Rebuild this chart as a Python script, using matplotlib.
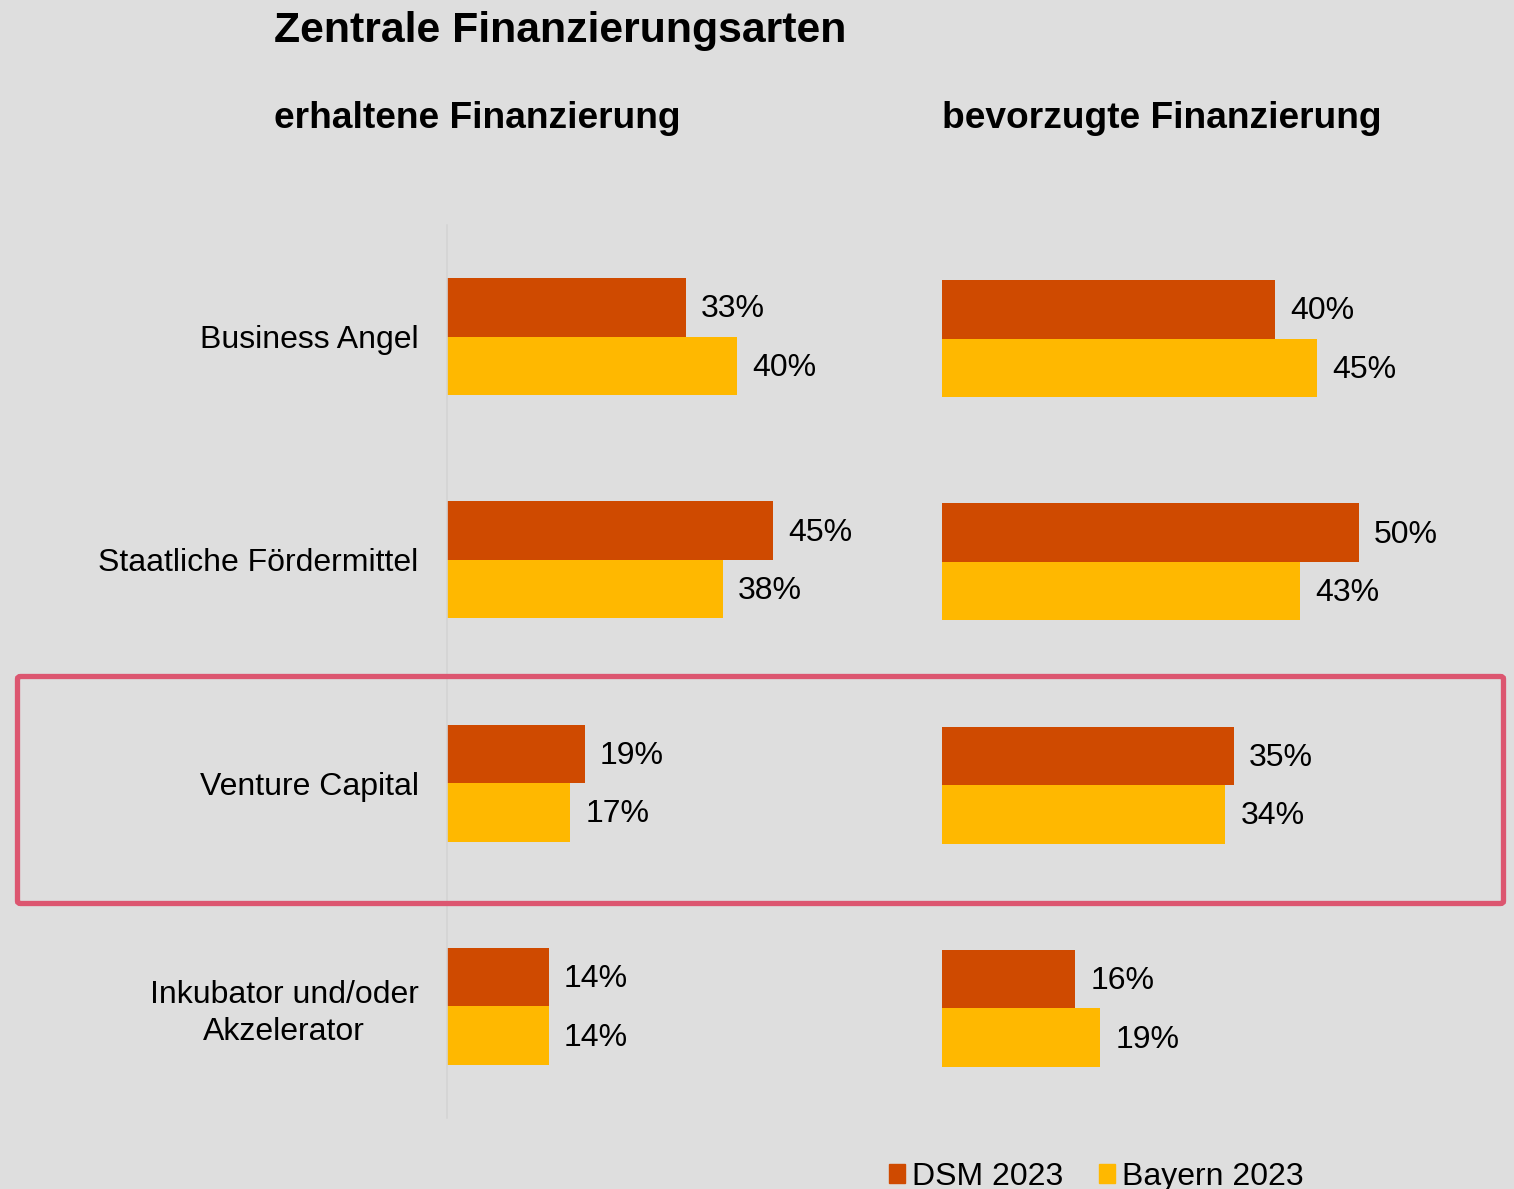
import matplotlib.pyplot as plt
from matplotlib.patches import Patch, FancyBboxPatch

plt.rcParams['font.family'] = ['Liberation Sans', 'DejaVu Sans']

categories = ['Business Angel', 'Staatliche Fördermittel', 'Venture Capital',
              'Inkubator und/oder\nAkzelerator']
erhalten_dsm = [33, 45, 19, 14]
erhalten_bayern = [40, 38, 17, 14]
bevorzugt_dsm = [40, 50, 35, 16]
bevorzugt_bayern = [45, 43, 34, 19]

series_labels = ['DSM 2023', 'Bayern 2023']
col_dsm = '#CF4A00'
col_bay = '#FFB800'
bg = '#DEDEDE'

W, H = 1514, 1189
fig = plt.figure(figsize=(W / 100, H / 100), dpi=100, facecolor=bg)

ax1 = fig.add_axes([447 / W, 1 - 1118 / H, 435 / W, 893 / H])
ax2 = fig.add_axes([942 / W, 1 - 1120 / H, 550 / W, 893 / H])

bh = 0.262
ypos = list(range(len(categories)))


def draw(ax, dsm, bay, xmax, show_labels):
    ax.set_facecolor(bg)
    ax.barh([y - bh / 2 for y in ypos], dsm, height=bh, color=col_dsm)
    ax.barh([y + bh / 2 for y in ypos], bay, height=bh, color=col_bay)
    for y, v in zip(ypos, dsm):
        ax.annotate(f'{v}%', (v, y - bh / 2), xytext=(15, -2), textcoords='offset pixels',
                    va='center', ha='left', fontsize=23)
    for y, v in zip(ypos, bay):
        ax.annotate(f'{v}%', (v, y + bh / 2), xytext=(15, -2), textcoords='offset pixels',
                    va='center', ha='left', fontsize=23)
    ax.set_xlim(0, xmax)
    ax.set_ylim(len(categories) - 0.5, -0.5)
    ax.set_xticks([])
    for s in ['top', 'right', 'bottom']:
        ax.spines[s].set_visible(False)
    if show_labels:
        ax.spines['left'].set_color('#D4D4D4')
        ax.spines['left'].set_linewidth(1.2)
        ax.set_yticks(ypos)
        ax.set_yticklabels(categories, fontsize=23, multialignment='center',
                           linespacing=1.3)
        ax.tick_params(axis='y', length=0, pad=20.5)
    else:
        ax.spines['left'].set_visible(False)
        ax.set_yticks([])


draw(ax1, erhalten_dsm, erhalten_bayern, 60, True)
draw(ax2, bevorzugt_dsm, bevorzugt_bayern, 66, False)

fig.text(274 / W, 1 - 42 / H, 'Zentrale Finanzierungsarten', fontsize=30.8,
         fontweight='bold', ha='left', va='baseline')
fig.text(274 / W, 1 - 128 / H, 'erhaltene Finanzierung', fontsize=26.7,
         fontweight='bold', ha='left', va='baseline')
fig.text(942 / W, 1 - 128 / H, 'bevorzugte Finanzierung', fontsize=26.7,
         fontweight='bold', ha='left', va='baseline')

# highlight box around Venture Capital
box = FancyBboxPatch((17.5 / W, 1 - 903.5 / H), 1486 / W, 227 / H,
                     boxstyle='round,pad=0,rounding_size=0.002',
                     transform=fig.transFigure, fill=False,
                     edgecolor='#DC5670', linewidth=3.8, zorder=10)
fig.patches.append(box)

handles = [Patch(color=col_dsm), Patch(color=col_bay)]
fig.legend(handles, series_labels, loc='lower left', bbox_to_anchor=(867 / W, -0.021),
           ncol=2, frameon=False, fontsize=23, handlelength=0.5, handleheight=0.53,
           handletextpad=0.22, columnspacing=1.12, borderpad=0.2)

fig.savefig('out.png', dpi=100, facecolor=bg)
